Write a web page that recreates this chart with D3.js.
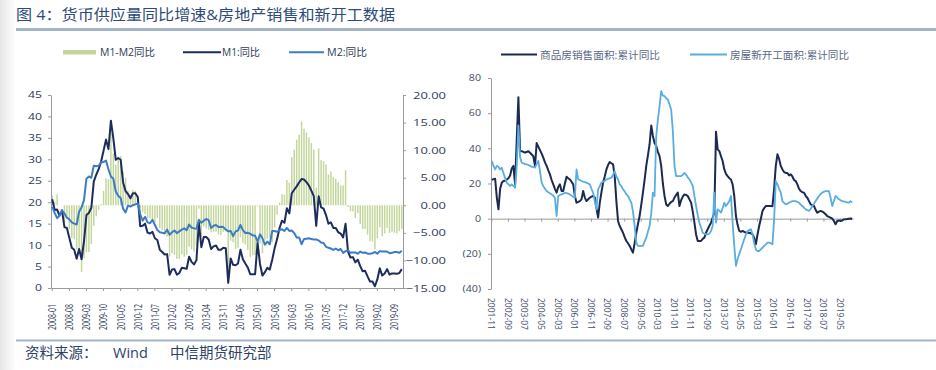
<!DOCTYPE html>
<html><head><meta charset="utf-8">
<script src="https://cdn.jsdelivr.net/npm/d3@7"></script>
<style>
html,body{margin:0;padding:0;background:#fff;}
svg{display:block;}
text{font-family:"Open Sans","Noto Sans CJK SC",sans-serif;}
</style></head><body>
<svg id="c" width="936" height="370"></svg>
<script>
// ---------------- DATA ----------------
const leftStart = {year: 2008, month: 1, count: 144};
const rightStart = {year: 2001, month: 11, count: 218};

const leftXTicks = ["2008-01","2008-08","2009-03","2009-10","2010-05","2010-12","2011-07","2012-02","2012-09","2013-04","2013-11","2014-06","2015-01","2015-08","2016-03","2016-10","2017-05","2017-12","2018-07","2019-02","2019-09"];
const rightXTicks = ["2001-11","2002-09","2003-07","2004-05","2005-03","2006-01","2006-11","2007-09","2008-07","2009-05","2010-03","2011-01","2011-11","2012-09","2013-07","2014-05","2015-03","2016-01","2016-11","2017-09","2018-07","2019-05"];
const leftYTicks = [0,5,10,15,20,25,30,35,40,45];
const leftY2Ticks = [-15,-10,-5,0,5,10,15,20];
const rightYTicks = [-40,-20,0,20,40,60,80];

// M1 YoY (%) 2008-01 .. 2019-12
const m1 = [
20.7,18.2,18.3,16.9,18.1,14.2,14.0,11.7,9.4,8.9,6.8,9.1,
6.7,10.9,17.0,17.5,18.7,24.8,26.4,27.7,29.5,32.0,34.6,32.4,
39.0,34.9,29.9,30.3,29.9,24.6,22.6,21.9,20.9,22.1,22.1,21.2,
14.4,14.5,15.0,12.9,12.7,13.1,11.6,11.2,8.9,8.4,7.8,7.9,
3.1,4.3,4.4,3.1,3.5,4.7,4.6,4.5,7.3,6.1,5.5,6.5,
15.3,9.5,11.9,11.9,11.3,9.1,9.7,9.9,8.9,8.9,9.4,9.3,
1.2,6.9,5.4,5.3,5.7,8.9,6.7,5.7,4.8,3.2,3.2,3.2,
10.6,5.6,2.9,3.7,4.7,4.3,6.6,9.3,11.4,14.0,15.7,15.2,
18.6,17.4,22.1,22.9,23.7,24.6,25.4,25.3,24.7,23.9,22.7,21.4,
14.5,21.4,18.8,18.5,17.0,15.0,15.3,14.0,14.0,13.0,12.7,11.8,
15.0,8.5,7.1,7.2,6.0,6.6,5.1,3.9,4.0,2.7,1.5,1.5,
0.4,2.0,4.6,2.9,3.4,4.4,3.1,3.4,3.4,3.3,3.5,4.4];

// M2 YoY (%)
const m2 = [
18.9,17.5,16.3,16.9,18.1,17.4,16.4,16.0,15.3,15.0,14.8,17.8,
18.8,20.5,25.5,26.0,25.7,28.5,28.4,28.5,29.3,29.4,29.7,27.7,
26.0,25.5,22.5,21.5,21.0,18.5,17.6,19.2,19.0,19.3,19.5,19.7,
17.2,15.7,16.6,15.3,15.1,15.9,14.7,13.5,13.0,12.9,12.7,13.6,
12.4,13.0,13.4,12.8,13.2,13.6,13.9,13.5,14.8,14.1,13.9,13.8,
15.9,15.2,15.7,16.1,15.8,14.0,14.5,14.7,14.2,14.3,14.2,13.6,
13.2,13.3,12.1,13.2,13.4,14.7,13.5,12.8,12.9,12.6,12.3,12.2,
10.8,12.5,11.6,10.1,10.8,10.2,13.3,13.3,13.1,13.5,13.7,13.3,
14.0,13.3,13.4,12.8,11.8,11.8,10.2,11.4,11.5,11.6,11.4,11.3,
11.3,11.1,10.6,10.5,9.6,9.4,9.2,8.9,9.2,8.8,9.1,8.2,
8.6,8.8,8.2,8.3,8.3,8.0,8.5,8.2,8.3,8.0,8.0,8.1,
8.4,8.0,8.6,8.5,8.5,8.5,8.1,8.2,8.4,8.4,8.2,8.7];

// M1-M2 (pct pts, right axis)
const m1m2 = [
1.8,0.7,2.0,0.0,0.0,-3.2,-2.4,-4.3,-5.9,-6.1,-8.0,-8.7,
-12.1,-9.6,-8.5,-8.5,-7.0,-3.7,-2.0,-0.8,0.2,2.6,4.9,4.7,
13.0,9.4,7.4,8.8,8.9,6.1,5.0,2.7,1.9,2.8,2.6,1.5,
-2.8,-1.2,-1.6,-2.4,-2.4,-2.8,-3.1,-2.3,-4.1,-4.5,-4.9,-5.7,
-9.3,-8.7,-9.0,-9.7,-9.7,-8.9,-9.3,-9.0,-7.5,-8.0,-8.4,-7.3,
-0.6,-5.7,-3.8,-4.2,-4.5,-4.9,-4.8,-4.8,-5.3,-5.4,-4.8,-4.3,
-12.0,-6.4,-6.7,-7.9,-7.7,-5.8,-6.8,-7.1,-8.1,-9.4,-9.1,-9.0,
-0.2,-6.9,-8.7,-6.4,-6.1,-5.9,-6.7,-4.0,-1.7,0.5,2.0,1.9,
4.6,4.1,8.7,10.1,11.9,12.8,15.2,13.9,13.2,12.3,11.3,10.1,
3.2,10.3,8.2,8.0,7.4,5.6,6.1,5.1,4.8,4.2,3.6,3.6,
6.4,-0.3,-1.1,-1.1,-2.3,-1.4,-3.4,-4.3,-4.3,-5.3,-6.5,-6.6,
-8.0,-6.0,-4.0,-5.6,-5.1,-4.1,-5.0,-4.8,-5.0,-5.1,-4.7,-4.3];

// 商品房销售面积:累计同比 2001-11 .. 2019-12
const sales = [
22,22.5,
22.7,12,5.3,17,20.5,21.4,21.5,22.3,23,24.5,28.5,30,
19.5,45,69,38.5,38.4,38,37.5,38,38.4,37.5,36.5,35.5,
30,43,41,39,37,34.7,32,30,27.5,25.2,22,19.5,
17,14.8,18,19.5,15.7,15.7,20,23.9,23,22.3,21,19.5,
13,9.1,9.5,10,11,15.7,12,10,11,11.9,12.5,12.9,
12,6,0.6,9,15,20.5,24,28,30.5,32.2,31.5,30.9,
24.2,10,-1.3,-4.2,-6,-8,-10.5,-12.7,-14,-15.5,-17.5,-19.3,
-14,-8,-3,1.5,8,14.8,22,30,36,42.2,53,47,
43,41.3,38,35.6,30,20,12.9,8.1,7.2,8.5,9.5,10,
12,13.5,14.8,7.2,10.5,12.5,13.8,13.5,12.9,11,9.1,4,
-2.3,-9,-12.7,-12.7,-12.7,-11.5,-10.8,-8,-6,-4,-2.3,0.6,
3.4,49.5,39.4,38.4,35.5,32.8,28,25.5,24.2,23,22.3,19.5,
12.9,1.5,-3.5,-7,-7.5,-7,-7.5,-8,-8,-8,-8.3,-8.9,
-11,-14.6,-9,-4.2,0,4.4,6,7.2,7.2,7.2,7.2,7,
17,30,36.6,34,30,28,26.5,26,26,24.6,25.2,24,
22,21.4,19.5,17,15.7,15,14.8,13,11.9,10,8.1,7.7,
7.2,5,3.4,4,4.4,4,3.4,2.5,1.5,1,0.6,0,
-1.3,-3.2,-1.3,-1,-1.3,-1,-0.4,-0.3,-0.2,0,0.1,0];

// 房屋新开工面积:累计同比 2001-11 .. 2019-12
const starts = [
32.8,30,
28,30,29.5,28,29,26,23,20.5,19.5,18.6,19.5,18.6,
17.6,30,53,35,31.8,31.5,31,30.9,30.5,30,29.5,29.5,
29,31,32.8,27,20.5,18.5,17,15.7,15,14.5,13.8,13,
11.9,1.5,12.9,13.5,13.8,14.2,14.8,14.5,14.2,13.8,13,12.5,
11.9,28,22.3,22,21.4,21,20.8,20.5,20,19.5,17,14.8,
10,5.3,16.7,18.5,20.5,21,21.5,22.3,22.6,23,23.3,25,
27,24,22.3,19.5,18.5,16.7,15.5,14,12.9,11,9.1,4,
-4,-13.6,-15.5,-15.5,-15.5,-15.5,-13,-10.8,-7.5,-4.2,3,14.8,
12.9,47,56.4,64,72.5,70,69.7,68.5,67.8,65,62,50,
30,24.2,24.2,24.2,24.2,25,26,25,23.5,22.3,20.5,18.6,
13,7.2,2,-2.3,-5,-8,-8.5,-8.9,-8.9,-8.5,-7,-4.2,
14.8,-2.3,5.3,4.5,3.4,6,9.1,7.2,8.5,10,12.9,-2.3,
-15.5,-26.9,-23.1,-20,-17.4,-14.5,-11.7,-9,-7,-6.5,-6,-8.9,
-14,-17.4,-18.4,-18.4,-17.5,-16.5,-15.5,-14.6,-13.6,-13.6,-14,-14.6,
-0.4,21.4,19.5,17,14.8,10,9,8.1,8.5,9.1,9.5,10,
10,10,9.5,9.1,8,7.2,6.3,5.3,4.8,4.4,5.5,7.2,
8.5,10,11.5,12.9,14,14.8,15.3,15.7,15.7,15.7,11.9,7.2,
10,12.9,12,11,10.5,10,9.8,9.5,9.3,9.1,10,9.1];

// ---------------- HELPERS ----------------
function monthRange(s){
  const out=[];
  for(let k=0;k<s.count;k++){
    const t=s.month-1+k;
    out.push((s.year+Math.floor(t/12))+"-"+String(t%12+1).padStart(2,"0"));
  }
  return out;
}
const monthsL = monthRange(leftStart);
const monthsR = monthRange(rightStart);

function stretch(sel,k){
  sel.each(function(){
    const w=this.getComputedTextLength();
    if(w>0){this.setAttribute("textLength",(w*k).toFixed(2));this.setAttribute("lengthAdjust","spacingAndGlyphs");}
  });
}
function fit(sel,w){ sel.attr("textLength",w).attr("lengthAdjust","spacingAndGlyphs"); }

const C = {
  bar:"#c3d69b", m1:"#1d2c5c", m2:"#3d7cc4",
  sales:"#1b2a50", starts:"#5aade0",
  axis:"#9a9a9a", tick:"#2e3b58", tick2:"#3e4b68",
  title:"#2d4b78", rule:"#a3b4c8"
};

const svg = d3.select("#c");
const defs = svg.append("defs");
const gr = defs.append("linearGradient").attr("id","edge").attr("x1",0).attr("x2",1);
gr.append("stop").attr("offset",0).attr("stop-color","#e6e6e6");
gr.append("stop").attr("offset",1).attr("stop-color","#ffffff");
svg.append("rect").attr("x",0).attr("y",0).attr("width",16).attr("height",370).attr("fill","url(#edge)");

// Title
fit(svg.append("text").attr("x",16).attr("y",19.5).attr("font-size",15)
  .attr("font-family","Noto Sans CJK SC").attr("fill",C.title)
  .text("图 4：货币供应量同比增速&房地产销售和新开工数据"),379);
svg.append("line").attr("x1",16).attr("x2",936).attr("y1",29.5).attr("y2",29.5)
  .attr("stroke",C.rule).attr("stroke-width",3);

// Footer
svg.append("line").attr("x1",16).attr("x2",936).attr("y1",340.5).attr("y2",340.5)
  .attr("stroke",C.rule).attr("stroke-width",2);
const ft = svg.append("g").attr("font-size",14.5).attr("fill","#2e4266").attr("font-family","Noto Sans CJK SC");
ft.append("text").attr("x",25).attr("y",358).text("资料来源：");
ft.append("text").attr("x",113).attr("y",358).attr("font-family","Open Sans").text("Wind");
ft.append("text").attr("x",170).attr("y",358).text("中信期货研究部");

// ---------------- LEFT CHART ----------------
const gL = svg.append("g");
const xL = d3.scaleBand().domain(monthsL).range([51,403]).paddingInner(0.4).paddingOuter(0.2);
const yL = d3.scaleLinear().domain([0,45]).range([288,95]);
const yL2 = d3.scaleLinear().domain([-15,20]).range([288,95]);
const cxL = m => xL(m)+xL.bandwidth()/2;

gL.append("g").selectAll("rect").data(monthsL.map((m,i)=>({m,v:m1m2[i]}))).join("rect")
  .attr("x",d=>xL(d.m)).attr("width",xL.bandwidth())
  .attr("y",d=>Math.min(yL2(0),yL2(d.v))).attr("height",d=>Math.abs(yL2(d.v)-yL2(0)))
  .attr("fill",C.bar);

function styleAxis(g){
  g.select(".domain").attr("stroke",C.axis);
  g.selectAll(".tick line").attr("stroke",C.axis);
  g.selectAll(".tick text").attr("fill",C.tick).attr("font-family","Open Sans");
}
const axL = gL.append("g").attr("transform","translate(51,0)")
  .call(d3.axisLeft(yL).tickValues(leftYTicks).tickSize(3).tickSizeOuter(0).tickPadding(6));
styleAxis(axL); axL.selectAll("text").attr("font-size",9);
stretch(axL.selectAll("text"),1.36);

const axR = gL.append("g").attr("transform","translate(403,0)")
  .call(d3.axisRight(yL2).tickValues(leftY2Ticks).tickFormat(d3.format(".2f")).tickSize(3).tickSizeOuter(0));
styleAxis(axR);
axR.selectAll("text").attr("font-size",9.5).attr("text-anchor","end").attr("x",43);
stretch(axR.selectAll("text"),1.36);

const axB = gL.append("g").attr("transform","translate(0,288)")
  .call(d3.axisBottom(xL).tickValues(leftXTicks).tickSize(3).tickSizeOuter(0));
styleAxis(axB);
axB.selectAll("text").attr("font-size",8).attr("x",0).attr("y",0).attr("dy",null)
  .attr("dominant-baseline","central").attr("text-anchor","end")
  .attr("transform","translate(0,16) rotate(-90) scale(1,1.25)");
fit(axB.selectAll("text"),26);

const lineL = arr => d3.line().x((d,i)=>cxL(monthsL[i])).y(d=>yL(d))(arr);
gL.append("path").attr("d",lineL(m1)).attr("fill","none").attr("stroke",C.m1).attr("stroke-width",2).attr("stroke-linejoin","round");
gL.append("path").attr("d",lineL(m2)).attr("fill","none").attr("stroke",C.m2).attr("stroke-width",2).attr("stroke-linejoin","round");

// legend left
const lgL = svg.append("g").attr("font-size",10).attr("fill",C.tick);
lgL.append("rect").attr("x",63).attr("y",50).attr("width",33).attr("height",4.5).attr("fill",C.bar);
fit(lgL.append("text").attr("x",100).attr("y",56).text("M1-M2同比"),55);
lgL.append("line").attr("x1",183).attr("x2",221).attr("y1",52.3).attr("y2",52.3).attr("stroke",C.m1).attr("stroke-width",2);
fit(lgL.append("text").attr("x",222).attr("y",56).text("M1:同比"),38);
lgL.append("line").attr("x1",289).attr("x2",324).attr("y1",52.3).attr("y2",52.3).attr("stroke",C.m2).attr("stroke-width",2);
fit(lgL.append("text").attr("x",327).attr("y",56).text("M2:同比"),40);

// ---------------- RIGHT CHART ----------------
const gR = svg.append("g");
const xR = d3.scaleBand().domain(monthsR).range([491,853]);
const yR = d3.scaleLinear().domain([-40,80]).range([289,78]);
const cxR = m => xR(m)+xR.bandwidth()/2;

const ayR = gR.append("g").attr("transform","translate(491,0)")
  .call(d3.axisLeft(yR).tickValues(rightYTicks).tickFormat(d=>d<0?"("+(-d)+")":d).tickSize(3).tickSizeOuter(0).tickPadding(7));
styleAxis(ayR); ayR.selectAll("text").attr("font-size",8.5).attr("fill",C.tick2);
stretch(ayR.selectAll("text"),1.25);

const azR = gR.append("g").attr("transform",`translate(0,${yR(0)})`)
  .call(d3.axisBottom(xR).tickValues(rightXTicks).tickSize(3).tickSizeOuter(0).tickFormat(""));
styleAxis(azR);

const axlR = gR.append("g").attr("transform","translate(0,289)")
  .call(d3.axisBottom(xR).tickValues(rightXTicks).tickSize(0).tickSizeOuter(0));
axlR.select(".domain").remove();
axlR.selectAll("text").attr("fill",C.tick2).attr("font-family","Open Sans").attr("font-size",8.5)
  .attr("x",0).attr("y",0).attr("dy",null).attr("dominant-baseline","central").attr("text-anchor","start")
  .attr("transform","translate(0,9) rotate(90) scale(1,1.15)");
fit(axlR.selectAll("text"),32);

const lineR = arr => d3.line().x((d,i)=>cxR(monthsR[i])).y(d=>yR(d))(arr);
gR.append("path").attr("d",lineR(sales)).attr("fill","none").attr("stroke",C.sales).attr("stroke-width",2).attr("stroke-linejoin","round");
gR.append("path").attr("d",lineR(starts)).attr("fill","none").attr("stroke",C.starts).attr("stroke-width",1.8).attr("stroke-linejoin","round");

const lgR = svg.append("g").attr("font-size",10.5).attr("fill","#5b6785").attr("font-family","Noto Sans CJK SC");
lgR.append("line").attr("x1",501).attr("x2",537).attr("y1",54.5).attr("y2",54.5).attr("stroke",C.sales).attr("stroke-width",2);
fit(lgR.append("text").attr("x",540).attr("y",58.5).text("商品房销售面积:累计同比"),120);
lgR.append("line").attr("x1",690).attr("x2",727).attr("y1",54.5).attr("y2",54.5).attr("stroke",C.starts).attr("stroke-width",2);
fit(lgR.append("text").attr("x",730).attr("y",58.5).text("房屋新开工面积:累计同比"),119);
</script>
</body></html>
